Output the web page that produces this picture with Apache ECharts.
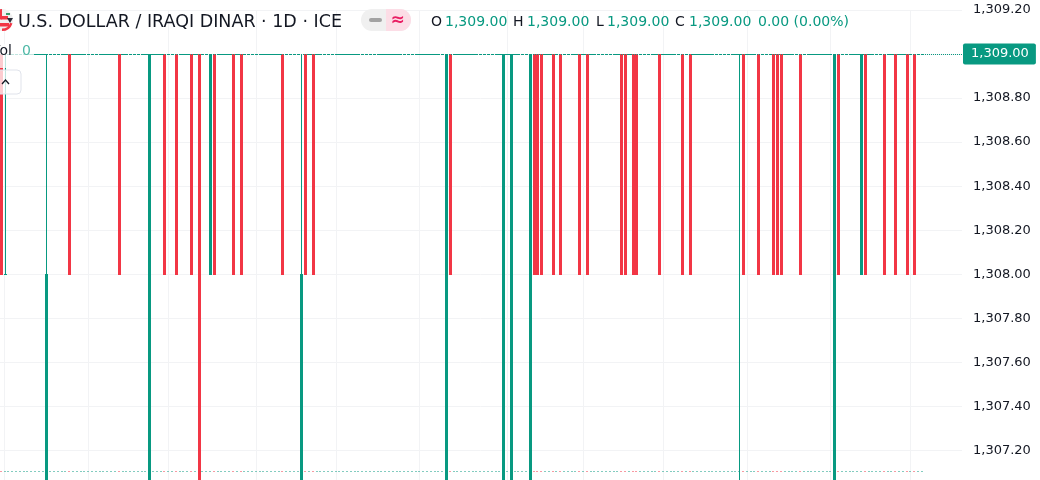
<!DOCTYPE html>
<html><head><meta charset="utf-8">
<style>html,body{margin:0;padding:0;background:#fff}#c{width:1040px;height:480px}</style>
<script src="https://cdn.jsdelivr.net/npm/echarts@6/dist/echarts.min.js"></script>
</head><body><div id="c"></div>
<script>
const slotCount = 253;
const candleCount = 243;
const priceHigh = 1309;
const priceFloor = 1308;
const priceOff = 1307;
const volumeMark = 1307.105;

const redToFloor = [0,18,31,43,46,50,56,61,63,74,80,82,118,140,141,142,145,147,152,154,163,164,166,167,173,179,181,195,199,203,204,205,210,220,227,232,235,238,240];
const redToOff = [52];
const greenToFloor = [55,226];
const greenToOff = [39,117,132,134,139,219];
const wickThenBodyOff = [12,79];
const wickToFloor = [1];
const wickToOff = [194];
const verticalGridAt = [1,23,44,67,88,110,133,153,174,196,218,239];

const title = 'U.S. DOLLAR / IRAQI DINAR · 1D · ICE';
const ohlc = [['O','1,309.00'],['H','1,309.00'],['L','1,309.00'],['C','1,309.00']];
const change = '0.00 (0.00%)';
const volValue = '0';
const lastPriceLabel = '1,309.00';

const GREEN = '#089981', RED = '#f23645', INK = '#131722', GRID = '#f2f3f5';
const FONT = '"DejaVu Sans", sans-serif';
const categories = Array.from({length: slotCount}, (_, i) => String(i));
const has = (list, i) => list.includes(i);
const isRed = i => has(redToFloor, i) || has(redToOff, i);

function candle(i) {
  let v = [priceHigh, priceHigh, priceHigh, priceHigh];
  if (has(redToFloor, i) || has(greenToFloor, i)) v = [priceHigh, priceFloor, priceFloor, priceHigh];
  if (has(redToOff, i) || has(greenToOff, i)) v = [priceHigh, priceOff, priceOff, priceHigh];
  if (has(wickThenBodyOff, i)) v = [priceFloor, priceOff, priceOff, priceHigh];
  if (has(wickToFloor, i)) v = [priceFloor, priceFloor, priceFloor, priceHigh];
  if (has(wickToOff, i)) v = [priceHigh, priceHigh, priceOff, priceHigh];
  return [i, ...v];
}
const candles = [], volumes = [];
for (let i = 0; i < candleCount; i++) {
  candles.push(candle(i));
  volumes.push([i, volumeMark]);
}

// pixel-snapped left edge of a 3px candle centred on category i
const snapLeft = cx => Math.round(cx - 1.2);

function renderCandle(params, api) {
  const i = api.value(0);
  const o = api.value(1), c = api.value(2), l = api.value(3), h = api.value(4);
  const cx = api.coord([i, o])[0];
  const left = snapLeft(cx);
  const y = v => Math.round(api.coord([i, v])[1]);
  const color = isRed(i) ? RED : GREEN;
  const bodyTop = Math.min(y(o), y(c)), bodyBot = Math.max(y(o), y(c));
  return {type:'group', children:[
    {type:'rect', shape:{x:left+1, y:y(h), width:1, height:y(l)-y(h)+1}, style:{fill:color}},
    {type:'rect', shape:{x:left, y:bodyTop, width:3, height:bodyBot-bodyTop+1}, style:{fill:color}}
  ]};
}
function renderVolume(params, api) {
  const i = api.value(0);
  const p = api.coord([i, api.value(1)]);
  return {type:'rect', shape:{x:snapLeft(p[0]), y:Math.round(p[1]), width:2, height:1},
    style:{fill: isRed(i) ? 'rgba(242,54,69,0.5)' : 'rgba(8,153,129,0.5)'}};
}

const headerText = [];
const headerX = [[431,445],[513,527],[596,607],[675,689]];
ohlc.forEach((p, k) => {
  headerText.push({type:'text', x: headerX[k][0], y: 15, z: 20, style:{text:p[0], fill:INK, font:'14px '+FONT}});
  headerText.push({type:'text', x: headerX[k][1], y: 15, z: 20, style:{text:p[1], fill:GREEN, font:'14px '+FONT}});
});

const chart = echarts.init(document.getElementById('c'), null, {renderer:'canvas'});
chart.setOption({
  animation: false,
  backgroundColor: '#ffffff',
  grid: {left: -1, width: 963, top: 9.94, height: 484.66, containLabel: false, outerBoundsMode: 'none'},
  xAxis: {
    type: 'category', data: categories, boundaryGap: true,
    axisLine: {show:false}, axisTick: {show:false}, axisLabel: {show:false},
    splitLine: {show:true, alignWithLabel:true, interval:(i)=>verticalGridAt.includes(i), lineStyle:{color:GRID, width:1}}
  },
  yAxis: {
    type: 'value', position: 'right', min: 1307, max: 1309.2, interval: 0.2, scale: true,
    axisLine: {show:false}, axisTick: {show:false},
    axisLabel: {margin: 11, color: INK, fontFamily: FONT, fontSize: 13, padding:[0,0,3,0],
      formatter: v => Math.abs(v - priceHigh) < 1e-6 ? '' : v.toLocaleString('en-US',{minimumFractionDigits:2, maximumFractionDigits:2})},
    splitLine: {show:true, lineStyle:{color:GRID, width:1}}
  },
  series: [
    {type:'custom', name:'Vol', data: volumes, renderItem: renderVolume, encode:{x:0,y:1}, z:1, silent:true, clip:true,
     markLine:{silent:true, symbol:'none', animation:false,
       lineStyle:{color:GREEN, type:'dotted', width:1},
       label:{show:true, position:'end', distance:1, formatter:lastPriceLabel, color:'#fff', backgroundColor:GREEN,
         fontFamily:FONT, fontSize:13, padding:[4,7,4,8], borderRadius:2},
       data:[{yAxis:priceHigh}]}},
    {type:'custom', name:'USDIQD', data: candles, renderItem: renderCandle, encode:{x:0,y:[1,2,3,4]}, z:2, silent:true, clip:true}
  ],
  graphic: [
    // legend wash and collapse button
    {type:'rect', z:10, shape:{x:0,y:44,width:34,height:24}, style:{fill:'rgba(255,255,255,0.75)'}},
    {type:'rect', z:10, shape:{x:-6,y:70,width:27,height:24,r:4}, style:{fill:'rgba(255,255,255,0.75)', stroke:'#e0e3eb', lineWidth:1}},
    {type:'polyline', z:11, shape:{points:[[2,84],[5.5,80],[9,84]]}, style:{stroke:INK, fill:null, lineWidth:1.3}},
    // logo
    {type:'circle', z:12, shape:{cx:2,cy:20,r:11}, style:{fill:'#f0f0f0'}},
    {type:'sector', z:13, shape:{cx:2,cy:20,r:11,r0:0,startAngle:-Math.PI*0.72,endAngle:-Math.PI*0.5}, style:{fill:'#f23645'}},
    {type:'rect', z:13, shape:{x:0,y:16,width:8,height:3.5}, style:{fill:'#f23645'}},
    {type:'rect', z:13, shape:{x:0,y:23,width:9,height:3.5}, style:{fill:'#f23645'}},
    {type:'sector', z:13, shape:{cx:2,cy:20,r:11,r0:8.5,startAngle:Math.PI*0.1,endAngle:Math.PI*0.5}, style:{fill:'#f23645'}},
    {type:'polygon', z:13, shape:{points:[[7,18],[13,18],[10,23]]}, style:{fill:'#2a2e39'}},
    {type:'rect', z:13, shape:{x:6,y:13,width:4,height:2}, style:{fill:'#3a9a6a'}},
    // header
    {type:'text', x:18, y:13, z:20, style:{text:title, fill:INK, font:'17.5px '+FONT}},
    ...headerText,
    {type:'text', x:758, y:15, z:20, style:{text:change, fill:GREEN, font:'14px '+FONT}},
    {type:'text', x:-9, y:44, z:20, style:{text:'Vol', fill:INK, font:'14px '+FONT}},
    {type:'text', x:22, y:44, z:20, style:{text:volValue, fill:'#4db8a6', font:'14px '+FONT}},
    // pill
    {type:'rect', z:12, shape:{x:361,y:9,width:50,height:22,r:11}, style:{fill:'#f0f0f0'}},
    {type:'rect', z:13, shape:{x:386,y:9,width:14,height:22}, style:{fill:'#fcdde6'}},
    {type:'sector', z:13, shape:{cx:400,cy:20,r:11,r0:0,startAngle:-Math.PI/2,endAngle:Math.PI/2}, style:{fill:'#fcdde6'}},
    {type:'rect', z:13, shape:{x:369,y:18,width:13,height:4,r:2}, style:{fill:'#a3a3a3'}},
    {type:'text', x:390.5, y:12, z:14, style:{text:'≈', fill:'#e91e63', font:'bold 17px '+FONT}}
  ]
});
</script></body></html>
